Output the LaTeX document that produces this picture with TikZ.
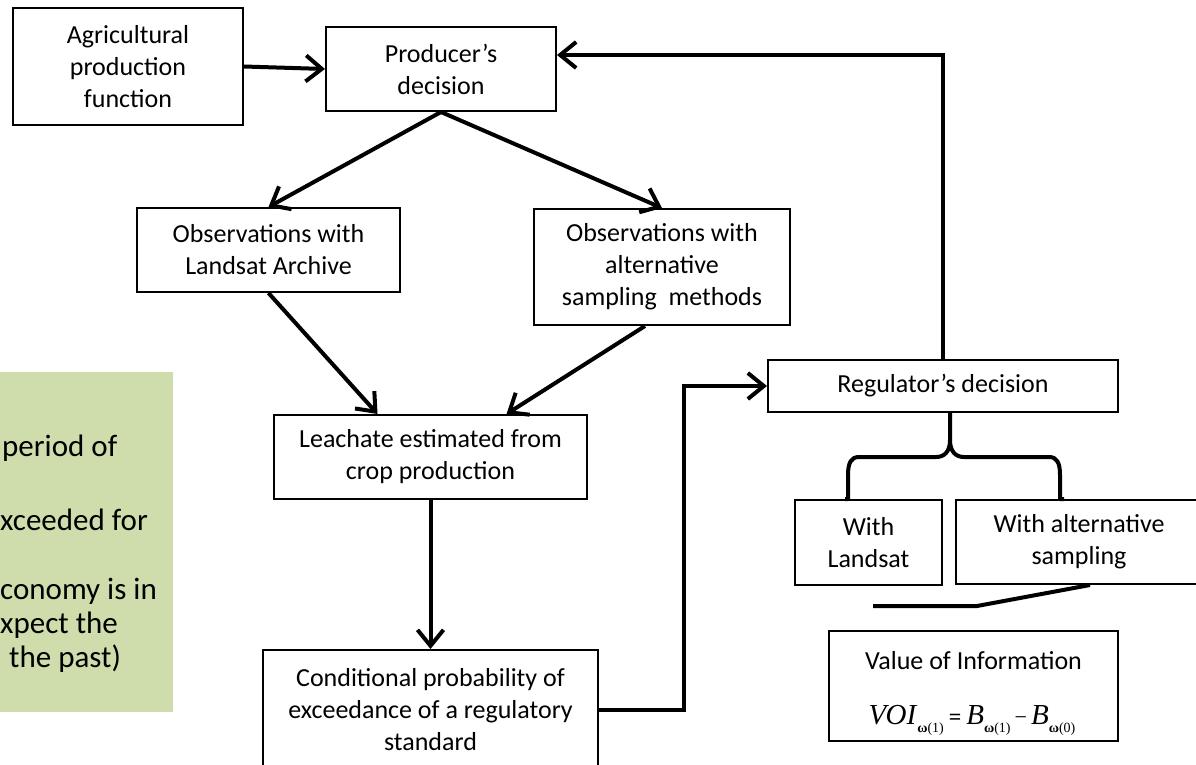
\documentclass[tikz,border=0pt]{standalone}
\usepackage{fontspec}
\setmainfont{Carlito}
\newfontfamily\tms{Liberation Serif}
\usetikzlibrary{arrows.meta}
\definecolor{greenbg}{RGB}{207,221,172}
\newcommand{\subw}[1]{\raisebox{-8pt}{\fontsize{14}{14}\selectfont\textbf{ω}(#1)}}
\begin{document}
\begin{tikzpicture}[x=1pt,y=-1pt,
  box/.style={draw, line width=2pt, align=center, inner sep=0pt, font=\fontsize{26}{32}\selectfont},
  txt/.style={inner sep=0pt, font=\fontsize{26}{32}\selectfont},
  gtext/.style={anchor=west, inner sep=0pt, font=\fontsize{31}{38}\selectfont, text height=21pt, text depth=7pt},
  conn/.style={line width=4pt},
  arr/.style={conn, -{Straight Barb[length=16pt,width=26pt,line width=4pt]}},
]
\useasboundingbox (0,0) rectangle (1196,765);
\clip (0,0) rectangle (1196,765);
\fill[white] (0,0) rectangle (1196,765);

% green note (clipped at left edge)
\fill[greenbg] (-5,372) rectangle (173,712);
\node[gtext] (g1) at (2,449) {period of};
\node[gtext] (g2) at (0,523) {xceeded for};
\node[gtext] (g3) at (0,592) {conomy is in};
\node[gtext] (g4) at (0,626) {xpect the};
\node[gtext] (g5) at (9,660) {the past)};

% boxes
\node[box, minimum width=230pt, minimum height=117pt] (agri) at (128,66.5) {Agricultural\\production\\function};
\node[box, minimum width=230pt, minimum height=84pt] (prod) at (441,69) {Producer’s\\decision};
\node[box, minimum width=263pt, minimum height=84pt] (obsL) at (268.5,250) {Observations with\\Landsat Archive};
\node[box, minimum width=256pt, minimum height=116pt] (obsA) at (662,267) {Observations with\\alternative\\sampling\ \ methods};
\node[box, minimum width=313pt, minimum height=84pt] (leach) at (430.5,457) {Leachate estimated from\\crop production};
\node[box, minimum width=335pt, minimum height=120pt] (cond) at (430.5,710) {Conditional probability of\\exceedance of a regulatory\\standard};
\node[box, minimum width=350pt, minimum height=52pt] (reg) at (943,386) {Regulator’s decision};
\node[box, minimum width=147pt, minimum height=85pt] (wl) at (868.5,542.5) {With\\Landsat};
\node[box, minimum width=246pt, minimum height=84pt] (wa) at (1079,542) {With alternative\\sampling};
\node[box, minimum width=289pt, minimum height=110pt] (voi) at (973.5,686) {};
\node[txt] (voit) at (973.5,661) {Value of Information};
\node[inner sep=0pt] (voif) at (972,720) {\tms\fontsize{29}{29}\selectfont\textit{VOI}\subw{1}\kern5pt{\fontsize{22}{22}\selectfont\textbf{=}}\kern5pt\textit{B}\subw{1}\kern4pt{\fontsize{22}{22}\selectfont −}\kern4pt\textit{B}\subw{0}};

% connectors
\draw[arr] (agri.east) -- (prod.west);
\draw[arr] (prod.south) -- (obsL.north);
\draw[arr] (prod.south) -- (obsA.north);
\draw[arr] (obsL.south) -- ([xshift=-53pt]leach.north);
\draw[arr] ([xshift=-17pt]obsA.south) -- ([xshift=76pt]leach.north);
\draw[arr] (leach.south) -- (cond.north);
\draw[arr] (cond.east) -- ++(85,0) |- (reg.west);
\draw[arr] (reg.north) |- ([yshift=14pt]prod.east);

% brace below regulator
\draw[conn, line join=round] ([xshift=7pt]reg.south) -- ++(0,27)
  .. controls ++(0,12) and ++(8,0) .. ++(-14,17) -- ++(-77,0)
  .. controls ++(-8,0) and ++(0,-12) .. ++(-11,18) |- (wl.north -| 845,0);
\draw[conn, line join=round] ([xshift=7pt,yshift=-27pt]reg.south)
  .. controls ++(0,12) and ++(-8,0) .. ++(14,17) -- ++(85,0)
  .. controls ++(8,0) and ++(0,-12) .. ++(11,18) |- (wa.north -| 1064,0);

% line below alternative sampling
\coordinate (lend) at (873,606);
\draw[conn] (lend) -- ++(104,0) -- ([xshift=11pt]wa.south);
\end{tikzpicture}
\end{document}
